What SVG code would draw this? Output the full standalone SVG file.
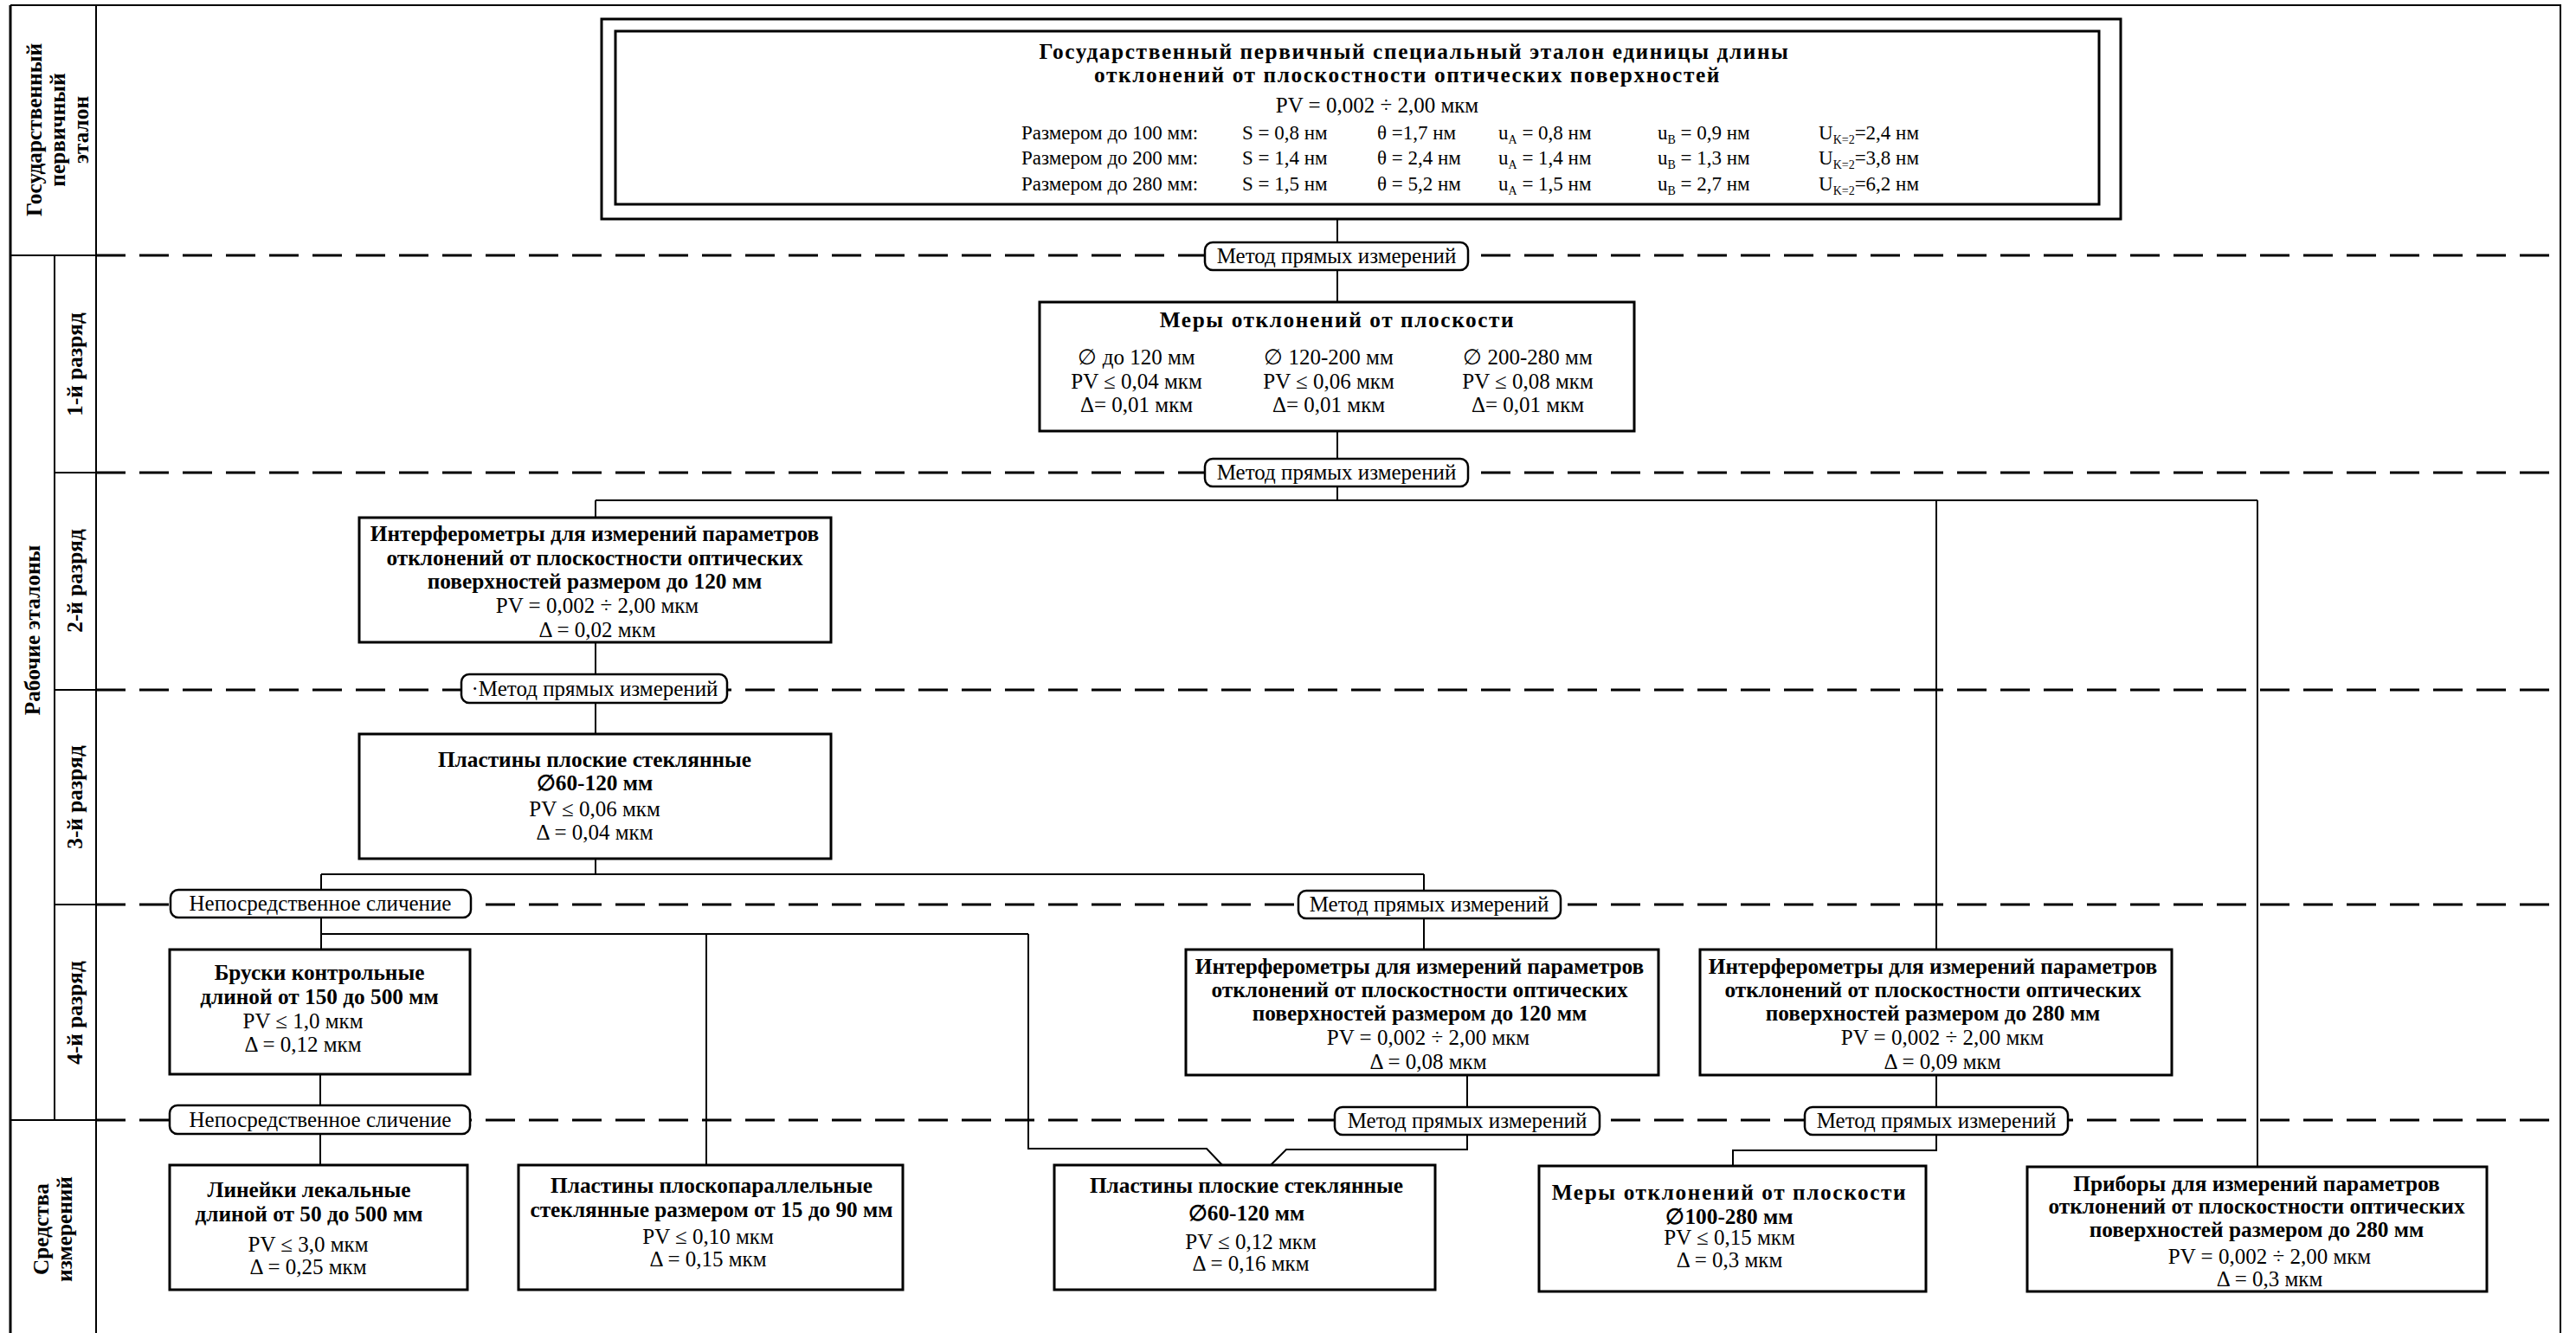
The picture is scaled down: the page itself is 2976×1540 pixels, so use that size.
<svg xmlns="http://www.w3.org/2000/svg" width="2976" height="1540" viewBox="0 0 2976 1540">
<style>
text{font-family:"Liberation Serif","Times New Roman",serif;fill:#000}
.b{font-weight:bold;font-size:25.3px}
.w{letter-spacing:1.6px}
.r{font-size:25px}
.s{font-size:23px}
.sub{font-size:14px}
.m{text-anchor:middle}
.box{fill:#fff;stroke:#000;stroke-width:3}
.lbl{fill:#fff;stroke:#000;stroke-width:2.5}
.con{fill:none;stroke:#000;stroke-width:2}
.grid{fill:none;stroke:#000;stroke-width:2}
.dash{fill:none;stroke:#000;stroke-width:3;stroke-dasharray:34 16}
</style>
<rect width="2976" height="1540" fill="#fff"/>
<g id="grid">
<path class="grid" d="M12,6H2958V1540M111,6V1540M63,296V1294M12,295H111M63,546H111M63,797H111M63,1045H111M12,1294H111"/>
<path d="M12,6V1540" stroke="#000" stroke-width="3"/>
<path class="dash" d="M111,295H2958M111,546H2958M111,797H2958M111,1045H2958M111,1294H2958"/>
<text class="b m" transform="translate(48,150) rotate(-90)">Государственный</text>
<text class="b m" transform="translate(75,150) rotate(-90)">первичный</text>
<text class="b m" transform="translate(102,150) rotate(-90)">эталон</text>
<text class="b m" transform="translate(46,728) rotate(-90)">Рабочие эталоны</text>
<text class="b m" transform="translate(95,421) rotate(-90)">1-й разряд</text>
<text class="b m" transform="translate(95,671) rotate(-90)">2-й разряд</text>
<text class="b m" transform="translate(95,921) rotate(-90)">3-й разряд</text>
<text class="b m" transform="translate(95,1170) rotate(-90)">4-й разряд</text>
<text class="b m" transform="translate(56,1420) rotate(-90)">Средства</text>
<text class="b m" transform="translate(83,1420) rotate(-90)">измерений</text>
</g>
<g id="connectors">
<path class="con" d="M1545,253V349M1545,498V578M688,578H2608M688,578V598M688,742V848M688,992V1010M371,1010H1645M371,1010V1097M370,1079H1188M816,1079V1346M1188,1079V1327H1394L1413,1347M1645,1010V1097M1695,1242V1328H1486L1467,1347M2237,578V1097M2237,1242V1329H2002V1347M2608,578V1348M370,1241V1346"/>
</g>
<g id="labels">
<g id="l1"><rect class="lbl" x="1392" y="280" width="304" height="32" rx="9"/><text class="r m" x="1544" y="304">Метод прямых измерений</text></g>
<g id="l2"><rect class="lbl" x="1392" y="530" width="304" height="32" rx="9"/><text class="r m" x="1544" y="554">Метод прямых измерений</text></g>
<g id="l3"><rect class="lbl" x="533" y="779" width="307" height="33" rx="9"/><text class="r m" x="687" y="804">·Метод прямых измерений</text></g>
<g id="l4"><rect class="lbl" x="197" y="1028" width="347" height="32" rx="9"/><text class="r m" x="370" y="1052">Непосредственное сличение</text></g>
<g id="l5"><rect class="lbl" x="1500" y="1029" width="303" height="32" rx="9"/><text class="r m" x="1651" y="1053">Метод прямых измерений</text></g>
<g id="l6"><rect class="lbl" x="196" y="1277" width="347" height="33" rx="9"/><text class="r m" x="370" y="1302">Непосредственное сличение</text></g>
<g id="l7"><rect class="lbl" x="1542" y="1279" width="306" height="32" rx="9"/><text class="r m" x="1695" y="1303">Метод прямых измерений</text></g>
<g id="l8"><rect class="lbl" x="2085" y="1279" width="304" height="32" rx="9"/><text class="r m" x="2237" y="1303">Метод прямых измерений</text></g>
</g>
<g id="n0">
<rect class="box" x="695" y="22" width="1755" height="231" stroke-width="2.5"/>
<rect class="box" x="711" y="36" width="1714" height="200" stroke-width="2.5"/>
<text class="b m w" x="1634" y="68">Государственный первичный специальный эталон единицы длины</text>
<text class="b m w" x="1626" y="95">отклонений от плоскостности оптических поверхностей</text>
<text class="r m" x="1591" y="130">PV = 0,002 ÷ 2,00 мкм</text>
<g class="s">
<text x="1180" y="161">Размером до 100 мм:</text>
<text x="1435" y="161">S = 0,8 нм</text>
<text x="1591" y="161">θ =1,7 нм</text>
<text x="1731" y="161">u<tspan class="sub" dy="5">A</tspan><tspan dy="-5"> = 0,8 нм</tspan></text>
<text x="1915" y="161">u<tspan class="sub" dy="5">B</tspan><tspan dy="-5"> = 0,9 нм</tspan></text>
<text x="2101" y="161">U<tspan class="sub" dy="5">K=2</tspan><tspan dy="-5">=2,4 нм</tspan></text>
<text x="1180" y="190">Размером до 200 мм:</text>
<text x="1435" y="190">S = 1,4 нм</text>
<text x="1591" y="190">θ = 2,4 нм</text>
<text x="1731" y="190">u<tspan class="sub" dy="5">A</tspan><tspan dy="-5"> = 1,4 нм</tspan></text>
<text x="1915" y="190">u<tspan class="sub" dy="5">B</tspan><tspan dy="-5"> = 1,3 нм</tspan></text>
<text x="2101" y="190">U<tspan class="sub" dy="5">K=2</tspan><tspan dy="-5">=3,8 нм</tspan></text>
<text x="1180" y="220">Размером до 280 мм:</text>
<text x="1435" y="220">S = 1,5 нм</text>
<text x="1591" y="220">θ = 5,2 нм</text>
<text x="1731" y="220">u<tspan class="sub" dy="5">A</tspan><tspan dy="-5"> = 1,5 нм</tspan></text>
<text x="1915" y="220">u<tspan class="sub" dy="5">B</tspan><tspan dy="-5"> = 2,7 нм</tspan></text>
<text x="2101" y="220">U<tspan class="sub" dy="5">K=2</tspan><tspan dy="-5">=6,2 нм</tspan></text>
</g>
</g>
<g id="n1">
<rect class="box" x="1201" y="349" width="687" height="149"/>
<text class="b m w" x="1545" y="378">Меры отклонений от плоскости</text>
<g class="r m">
<text x="1313" y="421">∅ до 120 мм</text><text x="1313" y="449">PV ≤ 0,04 мкм</text><text x="1313" y="476">Δ= 0,01 мкм</text>
<text x="1535" y="421">∅ 120-200 мм</text><text x="1535" y="449">PV ≤ 0,06 мкм</text><text x="1535" y="476">Δ= 0,01 мкм</text>
<text x="1765" y="421">∅ 200-280 мм</text><text x="1765" y="449">PV ≤ 0,08 мкм</text><text x="1765" y="476">Δ= 0,01 мкм</text>
</g>
</g>
<g id="n2">
<rect class="box" x="415" y="598" width="545" height="144"/>
<text class="b m" x="687" y="625">Интерферометры для измерений параметров</text>
<text class="b m" x="687" y="653">отклонений от плоскостности оптических</text>
<text class="b m" x="687" y="680">поверхностей размером до 120 мм</text>
<text class="r m" x="690" y="708">PV = 0,002 ÷ 2,00 мкм</text>
<text class="r m" x="690" y="736">Δ = 0,02 мкм</text>
</g>
<g id="n3">
<rect class="box" x="415" y="848" width="545" height="144"/>
<text class="b m" x="687" y="886">Пластины плоские стеклянные</text>
<text class="b m" x="687" y="913">∅60-120 мм</text>
<text class="r m" x="687" y="943">PV ≤ 0,06 мкм</text>
<text class="r m" x="687" y="970">Δ = 0,04 мкм</text>
</g>
<g id="n4">
<rect class="box" x="196" y="1097" width="347" height="144"/>
<text class="b m" x="369" y="1132">Бруски контрольные</text>
<text class="b m" x="369" y="1160">длиной от 150 до 500 мм</text>
<text class="r m" x="350" y="1188">PV ≤ 1,0 мкм</text>
<text class="r m" x="350" y="1215">Δ = 0,12 мкм</text>
</g>
<g id="n5">
<rect class="box" x="1370" y="1097" width="546" height="145"/>
<text class="b m" x="1640" y="1125">Интерферометры для измерений параметров</text>
<text class="b m" x="1640" y="1152">отклонений от плоскостности оптических</text>
<text class="b m" x="1640" y="1179">поверхностей размером до 120 мм</text>
<text class="r m" x="1650" y="1207">PV = 0,002 ÷ 2,00 мкм</text>
<text class="r m" x="1650" y="1235">Δ = 0,08 мкм</text>
</g>
<g id="n6">
<rect class="box" x="1964" y="1097" width="545" height="145"/>
<text class="b m" x="2233" y="1125">Интерферометры для измерений параметров</text>
<text class="b m" x="2233" y="1152">отклонений от плоскостности оптических</text>
<text class="b m" x="2233" y="1179">поверхностей размером до 280 мм</text>
<text class="r m" x="2244" y="1207">PV = 0,002 ÷ 2,00 мкм</text>
<text class="r m" x="2244" y="1235">Δ = 0,09 мкм</text>
</g>
<g id="n7">
<rect class="box" x="196" y="1346" width="344" height="144"/>
<text class="b m" x="357" y="1383">Линейки лекальные</text>
<text class="b m" x="357" y="1411">длиной от 50 до 500 мм</text>
<text class="r m" x="356" y="1446">PV ≤ 3,0 мкм</text>
<text class="r m" x="356" y="1472">Δ = 0,25 мкм</text>
</g>
<g id="n8">
<rect class="box" x="599" y="1346" width="444" height="144"/>
<text class="b m" x="822" y="1378">Пластины плоскопараллельные</text>
<text class="b m" x="822" y="1406">стеклянные размером от 15 до 90 мм</text>
<text class="r m" x="818" y="1437">PV ≤ 0,10 мкм</text>
<text class="r m" x="818" y="1463">Δ = 0,15 мкм</text>
</g>
<g id="n9">
<rect class="box" x="1218" y="1346" width="440" height="144"/>
<text class="b m" x="1440" y="1378">Пластины плоские стеклянные</text>
<text class="b m" x="1440" y="1410">∅60-120 мм</text>
<text class="r m" x="1445" y="1443">PV ≤ 0,12 мкм</text>
<text class="r m" x="1445" y="1468">Δ = 0,16 мкм</text>
</g>
<g id="n10">
<rect class="box" x="1778" y="1347" width="447" height="145"/>
<text class="b m w" x="1998" y="1386">Меры отклонений от плоскости</text>
<text class="b m" x="1998" y="1414">∅100-280 мм</text>
<text class="r m" x="1998" y="1438">PV ≤ 0,15 мкм</text>
<text class="r m" x="1998" y="1464">Δ =  0,3 мкм</text>
</g>
<g id="n11">
<rect class="box" x="2342" y="1348" width="531" height="144"/>
<text class="b m" x="2607" y="1376">Приборы для измерений параметров</text>
<text class="b m" x="2607" y="1402">отклонений от плоскостности оптических</text>
<text class="b m" x="2607" y="1429">поверхностей размером до 280 мм</text>
<text class="r m" x="2622" y="1460">PV = 0,002 ÷ 2,00 мкм</text>
<text class="r m" x="2622" y="1486">Δ = 0,3 мкм</text>
</g>
</svg>
